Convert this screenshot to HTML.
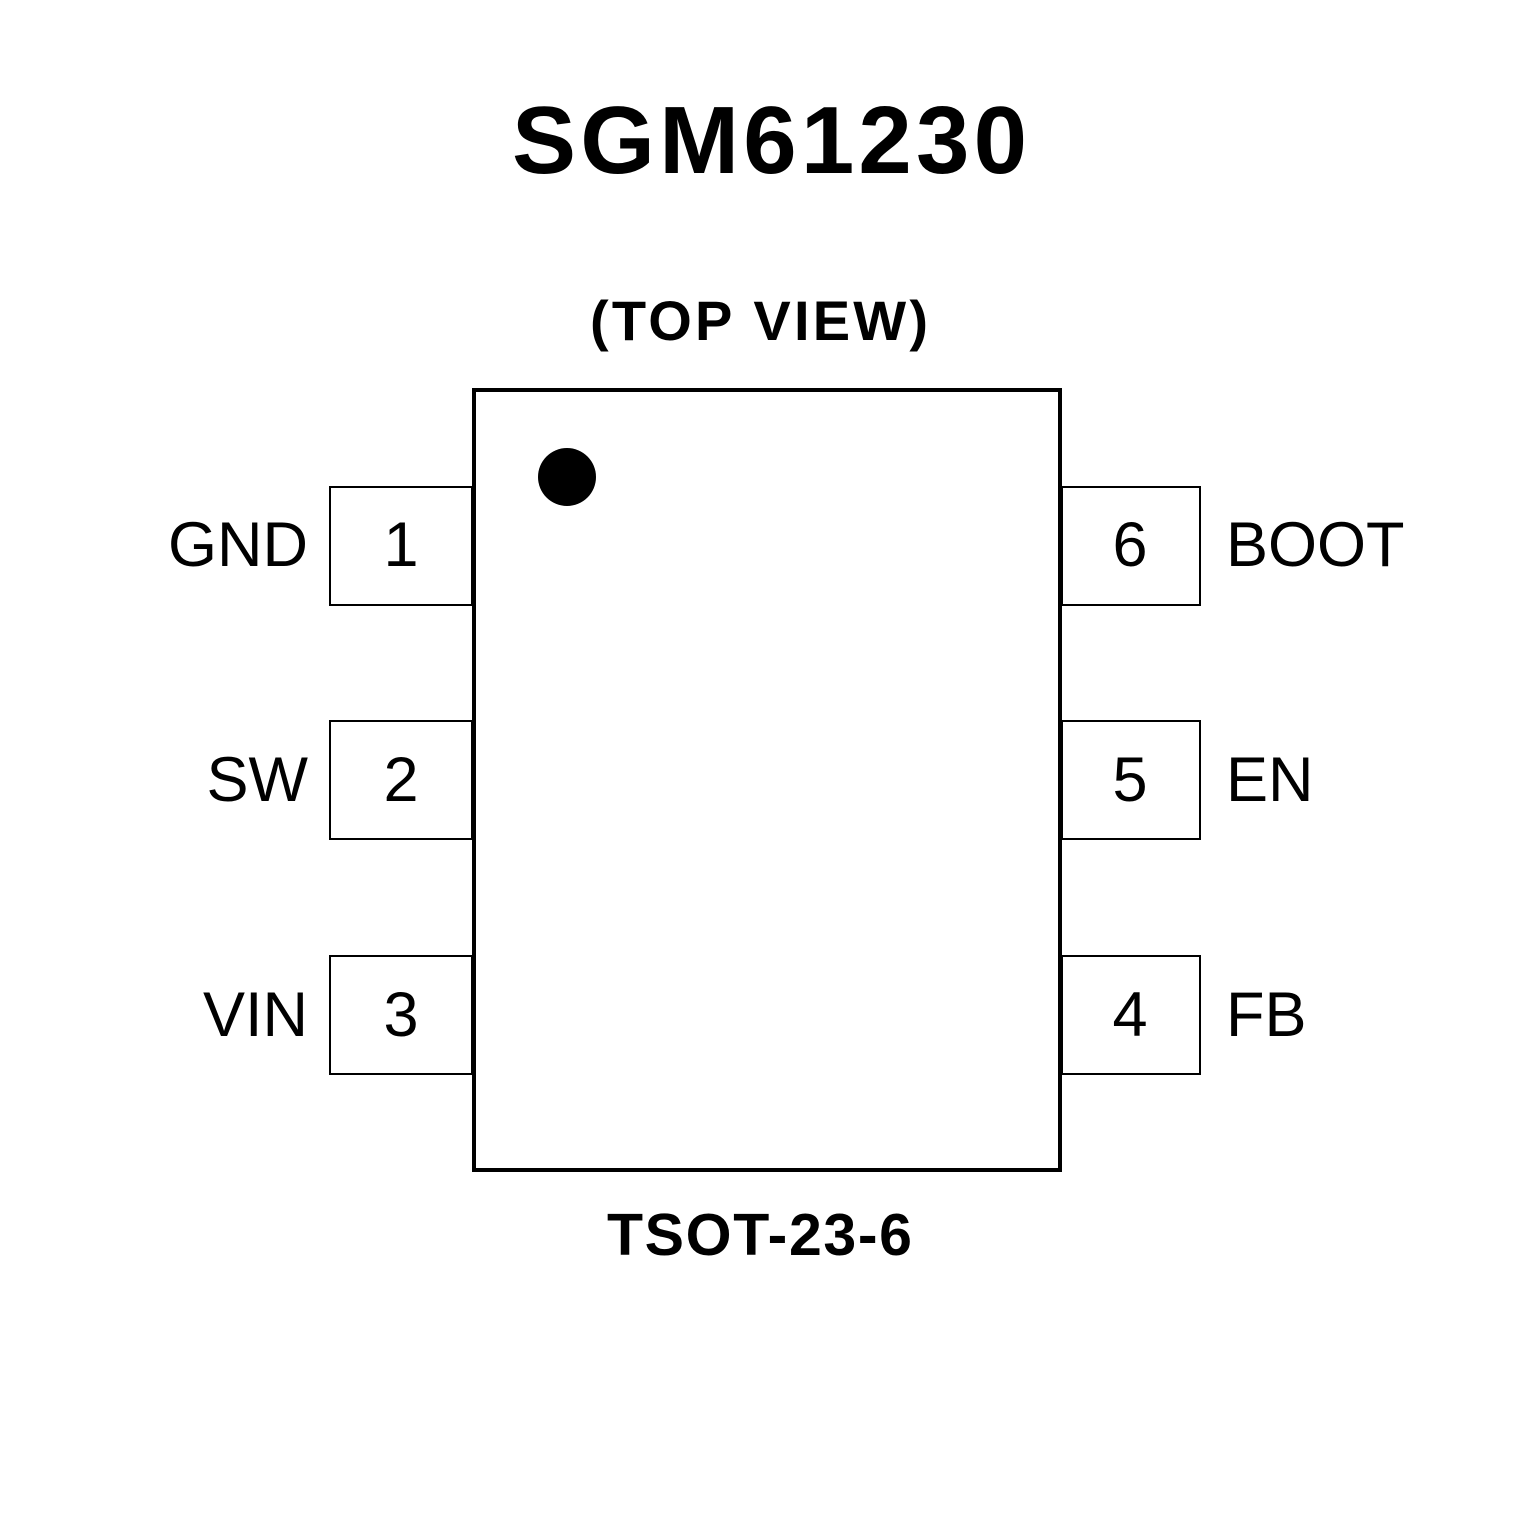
<!DOCTYPE html>
<html><head><style>html,body{margin:0;padding:0;background:#fff}</style></head>
<body>
<svg width="1535" height="1535" viewBox="0 0 1535 1535" xmlns="http://www.w3.org/2000/svg" font-family="Liberation Sans, sans-serif">
<rect width="1535" height="1535" fill="#fff"/>
<text x="512" y="173" font-size="96" font-weight="bold" textLength="515" lengthAdjust="spacing">SGM61230</text>
<text x="590" y="340" font-size="56" font-weight="bold" textLength="338" lengthAdjust="spacing">(TOP VIEW)</text>
<text x="607" y="1255" font-size="59" font-weight="bold" textLength="305" lengthAdjust="spacing">TSOT-23-6</text>
<rect x="474" y="390" width="586" height="780" fill="none" stroke="#000" stroke-width="4"/>
<circle cx="567" cy="477" r="29" fill="#000"/>
<g fill="none" stroke="#000" stroke-width="2">
<rect x="330" y="487" width="142" height="118"/>
<rect x="330" y="721" width="142" height="118"/>
<rect x="330" y="956" width="142" height="118"/>
<rect x="1062" y="487" width="138" height="118"/>
<rect x="1062" y="721" width="138" height="118"/>
<rect x="1062" y="956" width="138" height="118"/>
</g>
<g font-size="63">
<text x="308" y="566" text-anchor="end">GND</text>
<text x="308" y="801" text-anchor="end">SW</text>
<text x="308" y="1036" text-anchor="end">VIN</text>
<text x="401" y="566" text-anchor="middle">1</text>
<text x="401" y="801" text-anchor="middle">2</text>
<text x="401" y="1036" text-anchor="middle">3</text>
<text x="1130" y="566" text-anchor="middle">6</text>
<text x="1130" y="801" text-anchor="middle">5</text>
<text x="1130" y="1036" text-anchor="middle">4</text>
<text x="1226" y="566">BOOT</text>
<text x="1226" y="801">EN</text>
<text x="1226" y="1036">FB</text>
</g>
</svg>
</body></html>
